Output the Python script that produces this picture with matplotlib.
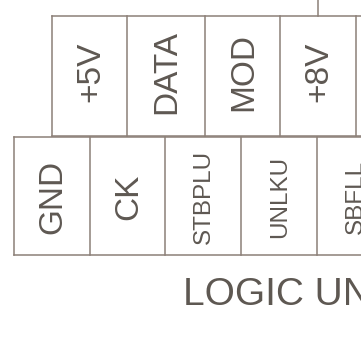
import matplotlib.pyplot as plt

# connector labels, left to right
top_labels = ["+5V", "DATA", "MOD", "+8V"]
bottom_labels = ["GND", "CK", "STBPLU", "UNLKU", "SBFLL"]
caption = "LOGIC UNIT"

# layout in pixels (image coords, y downward)
W, H = 361, 340
top_edges = [52, 127, 205, 280, 356]
bot_edges = [14, 90, 165, 241, 317, 393]
top_y0, mid_y, bot_y1 = 16, 136, 255
lead_x = 318

line_col = "#8c8078"
text_col = "#5e5852"

fig = plt.figure(figsize=(W / 100, H / 100), dpi=100)
ax = fig.add_axes([0, 0, 1, 1])
ax.set_xlim(0, W)
ax.set_ylim(H, 0)
ax.axis("off")

lw = 1.1
# top row of cells
ax.plot([top_edges[0], W], [top_y0, top_y0], color=line_col, lw=lw)
ax.plot([top_edges[0], W], [mid_y, mid_y], color=line_col, lw=lw)
for x in top_edges:
    ax.plot([x, x], [top_y0, mid_y], color=line_col, lw=lw)
ax.plot([lead_x, lead_x], [0, top_y0], color=line_col, lw=lw)

# bottom row of cells
ax.plot([bot_edges[0], W], [mid_y + 1, mid_y + 1], color=line_col, lw=lw)
ax.plot([bot_edges[0], W], [bot_y1, bot_y1], color=line_col, lw=lw)
for x in bot_edges:
    ax.plot([x, x], [mid_y + 1, bot_y1], color=line_col, lw=lw)

font = "Liberation Sans"
for i, lab in enumerate(top_labels):
    cx = (top_edges[i] + top_edges[i + 1]) / 2 + 1
    ax.text(cx, (top_y0 + mid_y) / 2 - 4, lab, rotation=90, ha="center", va="center",
            fontsize=24, color=text_col, family=font)

for i, lab in enumerate(bottom_labels):
    cx = (bot_edges[i] + bot_edges[i + 1]) / 2 + 1
    size = 24 if len(lab) <= 3 else 17.5
    ax.text(cx, (mid_y + bot_y1) / 2 + 1, lab, rotation=90, ha="center", va="center",
            fontsize=size, color=text_col, family=font, clip_on=True)

ax.text(183, 305, caption, ha="left", va="baseline", fontsize=28,
        color=text_col, family=font, clip_on=True)

fig.savefig("out.png", dpi=100, facecolor="white")
